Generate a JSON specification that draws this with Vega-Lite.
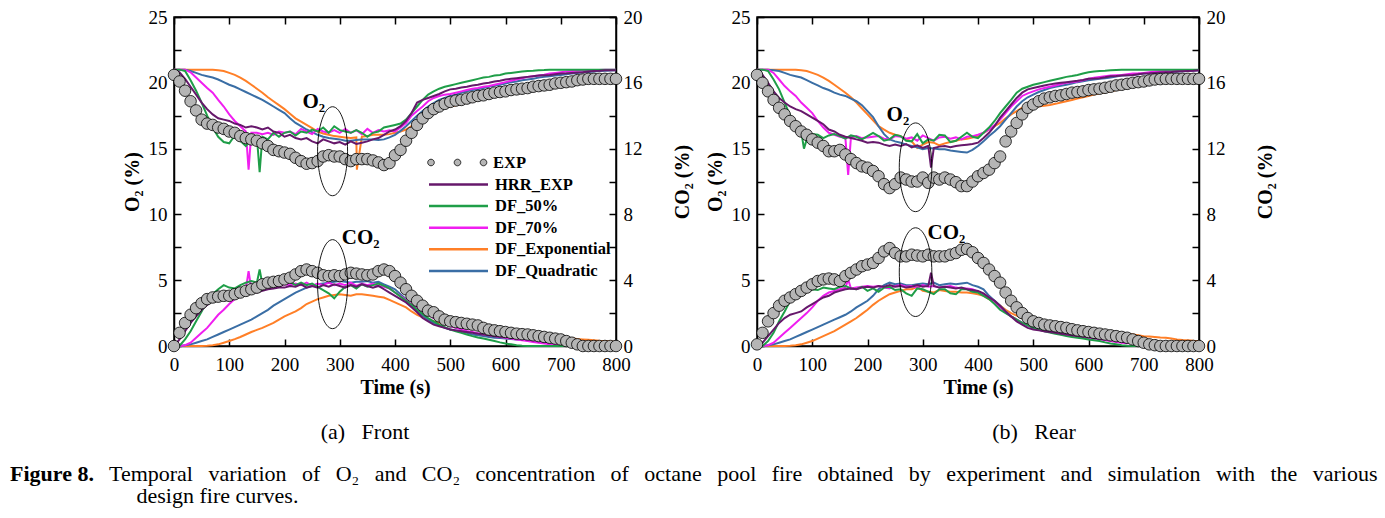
{
"$schema":"https://vega.github.io/schema/vega-lite/v6.json",
"autosize":{"type":"none"},
"padding":{"left":174,"top":17,"right":1211,"bottom":501},
"bounds":"flush",
"spacing":141,
"background":"white",
"title":{"text":"Figure 8.","subtitle":["\u200b\u00a0\u00a0\u00a0\u00a0\u00a0\u00a0\u00a0\u00a0\u00a0\u00a0\u00a0\u00a0\u00a0\u00a0\u00a0\u00a0\u00a0\u00a0Temporal \u00a0\u2009variation \u00a0\u2009of \u00a0\u2009O₂ \u00a0\u2009and \u00a0\u2009CO₂ \u00a0\u2009concentration \u00a0\u2009of \u00a0\u2009octane \u00a0\u2009pool \u00a0\u2009fire \u00a0\u2009obtained \u00a0\u2009by \u00a0\u2009experiment \u00a0\u2009and \u00a0\u2009simulation \u00a0\u2009with \u00a0\u2009the \u00a0\u2009various","\u200b\u00a0\u00a0\u00a0\u00a0\u00a0\u00a0\u00a0\u00a0\u00a0\u00a0\u00a0\u00a0\u00a0\u00a0\u00a0\u00a0\u00a0\u00a0\u00a0\u00a0\u00a0\u00a0\u00a0design fire curves."],"orient":"bottom","anchor":"start","frame":"group","dx":-164,"offset":20,"font":"Liberation Serif","fontSize":22,"fontWeight":"bold","color":"black","subtitleFont":"Liberation Serif","subtitleFontSize":22,"subtitleColor":"black","subtitlePadding":-22,"subtitleLineHeight":22},
"datasets":{
"front":[
{"t":0,"g":"o","e":20.6,"h":21,"d5":21,"d7":21,"dx":21,"dq":21},
{"t":10,"g":"o","e":20.1,"h":20.8,"d5":21,"d7":21,"dx":21,"dq":21},
{"t":20,"g":"o","e":19.4,"h":20.3,"d5":20.9,"d7":21,"dx":21,"dq":21},
{"t":30,"g":"o","e":18.6,"h":19.7,"d5":20.2,"d7":20.8,"dx":21,"dq":20.9},
{"t":40,"g":"o","e":17.9,"h":19.1,"d5":19.4,"d7":20.4,"dx":21,"dq":20.75},
{"t":50,"g":"o","e":17.2,"h":18.5,"d5":18.5,"d7":20,"dx":21,"dq":20.6},
{"t":60,"g":"o","e":16.9,"h":18,"d5":17.5,"d7":19.6,"dx":21,"dq":20.5},
{"t":70,"g":"o","e":16.8,"h":17.6,"d5":16.6,"d7":19.25,"dx":21,"dq":20.4},
{"t":80,"g":"o","e":16.6,"h":17.3,"d5":15.9,"d7":18.7,"dx":20.95,"dq":20.25},
{"t":90,"g":"o","e":16.5,"h":17.2,"d5":15.5,"d7":18.2,"dx":20.9,"dq":20.05},
{"t":100,"g":"o","e":16.3,"h":17.1,"d5":15.4,"d7":17.6,"dx":20.75,"dq":19.85},
{"t":110,"g":"o","e":16.2,"h":16.9,"d5":16,"d7":17.1,"dx":20.6,"dq":19.7},
{"t":120,"g":"o","e":15.95,"h":16.8,"d5":15.6,"d7":16.7,"dx":20.4,"dq":19.5},
{"t":130,"g":"o","e":15.8,"h":16.6,"d5":15.2,"d7":16.3,"dx":20.15,"dq":19.3},
{"t":135,"g":"o","d7":13.4},
{"t":140,"g":"o","e":15.7,"h":16.7,"d5":15.7,"d7":16.2,"dx":19.85,"dq":19.1},
{"t":150,"g":"o","e":15.6,"h":16.6,"d5":15.9,"d7":16.2,"dx":19.55,"dq":18.9},
{"t":155,"g":"o","d5":13.2},
{"t":160,"g":"o","e":15.4,"h":16.45,"d5":15.9,"d7":16.1,"dx":19.25,"dq":18.7},
{"t":170,"g":"o","e":15.2,"h":16.6,"d5":15.7,"d7":16.2,"dx":18.9,"dq":18.45},
{"t":180,"g":"o","e":14.9,"h":16.3,"d5":16.2,"d7":16.05,"dx":18.6,"dq":18.2},
{"t":190,"g":"o","e":14.8,"h":16.2,"d5":15.9,"d7":16.3,"dx":18.3,"dq":17.95},
{"t":200,"g":"o","e":14.7,"h":15.9,"d5":16.2,"d7":16.2,"dx":18,"dq":17.7},
{"t":210,"g":"o","e":14.6,"h":16.05,"d5":16.3,"d7":16.3,"dx":17.65,"dq":17.3},
{"t":220,"g":"o","e":14.3,"h":15.8,"d5":16,"d7":16.1,"dx":17.3,"dq":16.95},
{"t":230,"g":"o","e":14.05,"h":15.7,"d5":16.3,"d7":16.5,"dx":17.05,"dq":16.7},
{"t":240,"g":"o","e":13.85,"h":15.8,"d5":16.2,"d7":16.3,"dx":16.8,"dq":16.45},
{"t":250,"g":"o","e":13.9,"h":15.55,"d5":16.45,"d7":16.1,"dx":16.55,"dq":16.25},
{"t":260,"g":"o","e":14.05,"h":15.4,"d5":16.3,"d7":16.5,"dx":16.3,"dq":16.05},
{"t":270,"g":"o","e":14.4,"h":15.7,"d5":16.6,"d7":16.3,"dx":16.15,"dq":15.9},
{"t":280,"g":"o","e":14.5,"h":15.55,"d5":16.2,"d7":16.2,"dx":16.05,"dq":15.8},
{"t":290,"g":"o","e":14.4,"h":15.4,"d5":16.7,"d7":16.4,"dx":15.95,"dq":15.75},
{"t":300,"g":"o","e":14.4,"h":15.5,"d5":16.4,"d7":16.2,"dx":15.9,"dq":15.7},
{"t":310,"g":"o","e":14.2,"h":15.3,"d5":16.3,"d7":16.5,"dx":15.85,"dq":15.6},
{"t":320,"g":"o","e":14.05,"h":15.55,"d5":16.2,"d7":16.2,"dx":15.8,"dq":15.6},
{"t":330,"g":"o","e":14.2,"h":15.35,"d5":16.4,"d7":16.4,"dx":15.85,"dq":15.65},
{"t":331,"g":"o","dx":13.4},
{"t":340,"g":"o","e":14.2,"h":15.45,"d5":16.2,"d7":16.1,"dx":15.9,"dq":15.7},
{"t":350,"g":"o","e":14.2,"h":15.55,"d5":15.9,"d7":16.5,"dx":15.95,"dq":15.7},
{"t":360,"g":"o","e":14.1,"h":15.7,"d5":16.2,"d7":16.2,"dx":16.05,"dq":15.7},
{"t":370,"g":"o","e":13.95,"h":15.8,"d5":16.3,"d7":16.4,"dx":16.05,"dq":15.65},
{"t":380,"g":"o","e":13.75,"h":16.05,"d5":16.6,"d7":16.3,"dx":16.05,"dq":15.7},
{"t":390,"g":"o","e":13.9,"h":16.3,"d5":16.7,"d7":16.4,"dx":16.1,"dq":15.85},
{"t":400,"g":"o","e":14.5,"h":16.45,"d5":16.8,"d7":16.3,"dx":16.2,"dq":16.05},
{"t":410,"g":"o","e":14.9,"h":16.7,"d5":16.9,"d7":16.6,"dx":16.3,"dq":16.35},
{"t":420,"g":"o","e":15.6,"h":17.1,"d5":17.2,"d7":16.95,"dx":16.45,"dq":16.7},
{"t":430,"g":"o","e":16.2,"h":17.7,"d5":17.7,"d7":17.5,"dx":16.7,"dq":17.1},
{"t":440,"g":"o","e":16.8,"h":18.5,"d5":18.2,"d7":17.85,"dx":16.95,"dq":17.5},
{"t":450,"g":"o","e":17.3,"h":18.7,"d5":18.7,"d7":18.2,"dx":17.3,"dq":17.85},
{"t":460,"g":"o","e":17.7,"h":18.85,"d5":19.1,"d7":18.6,"dx":17.6,"dq":18.2},
{"t":470,"g":"o","e":18,"h":19,"d5":19.35,"d7":18.85,"dx":17.8,"dq":18.45},
{"t":480,"g":"o","e":18.2,"h":19.15,"d5":19.55,"d7":19,"dx":18,"dq":18.7},
{"t":490,"g":"o","e":18.4,"h":19.35,"d5":19.7,"d7":19.1,"dx":18.1,"dq":18.85},
{"t":500,"g":"o","e":18.55,"h":19.5,"d5":19.8,"d7":19.15,"dx":18.2,"dq":19},
{"t":510,"g":"o","e":18.65,"h":19.55,"d5":19.9,"d7":19.25,"dx":18.3,"dq":19.1},
{"t":520,"g":"o","e":18.7,"h":19.65,"d5":20,"d7":19.35,"dx":18.4,"dq":19.25},
{"t":530,"g":"o","e":18.8,"h":19.7,"d5":20.1,"d7":19.45,"dx":18.5,"dq":19.35},
{"t":540,"g":"o","e":18.9,"h":19.8,"d5":20.2,"d7":19.55,"dx":18.6,"dq":19.45},
{"t":550,"g":"o","e":19,"h":19.85,"d5":20.3,"d7":19.6,"dx":18.7,"dq":19.5},
{"t":560,"g":"o","e":19.05,"h":19.95,"d5":20.4,"d7":19.7,"dx":18.8,"dq":19.6},
{"t":570,"g":"o","e":19.15,"h":20,"d5":20.45,"d7":19.75,"dx":18.95,"dq":19.7},
{"t":580,"g":"o","e":19.25,"h":20.1,"d5":20.55,"d7":19.85,"dx":19.1,"dq":19.8},
{"t":590,"g":"o","e":19.3,"h":20.15,"d5":20.6,"d7":19.95,"dx":19.2,"dq":19.85},
{"t":600,"g":"o","e":19.35,"h":20.25,"d5":20.7,"d7":20.05,"dx":19.3,"dq":19.95},
{"t":610,"g":"o","e":19.45,"h":20.3,"d5":20.75,"d7":20.15,"dx":19.4,"dq":20.05},
{"t":620,"g":"o","e":19.5,"h":20.35,"d5":20.8,"d7":20.25,"dx":19.5,"dq":20.1},
{"t":630,"g":"o","e":19.55,"h":20.4,"d5":20.85,"d7":20.35,"dx":19.55,"dq":20.2},
{"t":640,"g":"o","e":19.6,"h":20.45,"d5":20.9,"d7":20.45,"dx":19.6,"dq":20.25},
{"t":650,"g":"o","e":19.7,"h":20.5,"d5":20.92,"d7":20.5,"dx":19.7,"dq":20.3},
{"t":660,"g":"o","e":19.75,"h":20.55,"d5":20.95,"d7":20.55,"dx":19.8,"dq":20.4},
{"t":670,"g":"o","e":19.8,"h":20.58,"d5":20.97,"d7":20.62,"dx":19.85,"dq":20.45},
{"t":680,"g":"o","e":19.85,"h":20.6,"d5":21,"d7":20.7,"dx":19.9,"dq":20.5},
{"t":690,"g":"o","e":19.95,"h":20.65,"d5":21,"d7":20.75,"dx":20,"dq":20.55},
{"t":700,"g":"o","e":20,"h":20.7,"d5":21,"d7":20.8,"dx":20.05,"dq":20.6},
{"t":710,"g":"o","e":20.05,"h":20.72,"d5":21,"d7":20.85,"dx":20.08,"dq":20.65},
{"t":720,"g":"o","e":20.1,"h":20.75,"d5":21,"d7":20.9,"dx":20.1,"dq":20.7},
{"t":730,"g":"o","e":20.2,"h":20.78,"d5":21,"d7":20.92,"dx":20.18,"dq":20.75},
{"t":740,"g":"o","e":20.25,"h":20.8,"d5":21,"d7":20.94,"dx":20.25,"dq":20.8},
{"t":750,"g":"o","e":20.3,"h":20.85,"d5":21,"d7":20.96,"dx":20.28,"dq":20.82},
{"t":760,"g":"o","e":20.3,"h":20.9,"d5":21,"d7":20.97,"dx":20.3,"dq":20.85},
{"t":770,"g":"o","e":20.3,"h":20.92,"d5":21,"d7":20.98,"dx":20.33,"dq":20.9},
{"t":780,"g":"o","e":20.3,"h":20.95,"d5":21,"d7":21,"dx":20.35,"dq":20.92},
{"t":790,"g":"o","e":20.3,"h":20.95,"d5":21,"d7":21,"dx":20.38,"dq":20.94},
{"t":800,"g":"o","e":20.3,"h":20.95,"d5":21,"d7":21,"dx":20.4,"dq":20.95},
{"t":0,"g":"c","e":0,"h":0,"d5":0,"d7":0,"dx":0,"dq":0},
{"t":10,"g":"c","e":0.8,"h":0.4,"d5":0.02,"d7":0,"dx":0,"dq":0},
{"t":20,"g":"c","e":1.4,"h":0.9,"d5":0.4,"d7":0.05,"dx":0,"dq":0.05},
{"t":30,"g":"c","e":1.9,"h":1.4,"d5":0.9,"d7":0.2,"dx":0,"dq":0.1},
{"t":40,"g":"c","e":2.3,"h":1.8,"d5":1.5,"d7":0.5,"dx":0,"dq":0.2},
{"t":50,"g":"c","e":2.6,"h":2.2,"d5":2.1,"d7":0.8,"dx":0,"dq":0.3},
{"t":60,"g":"c","e":2.85,"h":2.5,"d5":2.75,"d7":1.1,"dx":0.02,"dq":0.4},
{"t":70,"g":"c","e":2.95,"h":2.75,"d5":3.15,"d7":1.5,"dx":0.05,"dq":0.55},
{"t":80,"g":"c","e":3,"h":2.9,"d5":3.45,"d7":1.9,"dx":0.1,"dq":0.7},
{"t":90,"g":"c","e":3.05,"h":2.95,"d5":3.7,"d7":2.2,"dx":0.2,"dq":0.85},
{"t":100,"g":"c","e":3.05,"h":3.05,"d5":3.55,"d7":2.55,"dx":0.3,"dq":1},
{"t":110,"g":"c","e":3.15,"h":3.15,"d5":3.5,"d7":2.85,"dx":0.42,"dq":1.15},
{"t":120,"g":"c","e":3.25,"h":3.15,"d5":3.7,"d7":3.15,"dx":0.55,"dq":1.3},
{"t":130,"g":"c","e":3.35,"h":3.25,"d5":3.85,"d7":3.45,"dx":0.7,"dq":1.45},
{"t":135,"g":"c","d7":4.55},
{"t":140,"g":"c","e":3.45,"h":3.35,"d5":3.95,"d7":3.45,"dx":0.85,"dq":1.6},
{"t":150,"g":"c","e":3.55,"h":3.25,"d5":3.85,"d7":3.55,"dx":0.98,"dq":1.8},
{"t":155,"g":"c","d5":4.65},
{"t":160,"g":"c","e":3.75,"h":3.35,"d5":3.75,"d7":3.65,"dx":1.1,"dq":2},
{"t":170,"g":"c","e":3.85,"h":3.45,"d5":3.85,"d7":3.6,"dx":1.25,"dq":2.2},
{"t":180,"g":"c","e":3.9,"h":3.5,"d5":3.85,"d7":3.7,"dx":1.4,"dq":2.45},
{"t":190,"g":"c","e":3.95,"h":3.55,"d5":3.95,"d7":3.65,"dx":1.6,"dq":2.65},
{"t":200,"g":"c","e":4.05,"h":3.55,"d5":3.8,"d7":3.75,"dx":1.8,"dq":2.85},
{"t":210,"g":"c","e":4.15,"h":3.65,"d5":3.9,"d7":3.7,"dx":1.95,"dq":3.05},
{"t":220,"g":"c","e":4.35,"h":3.6,"d5":3.7,"d7":3.8,"dx":2.1,"dq":3.25},
{"t":230,"g":"c","e":4.55,"h":3.75,"d5":3.85,"d7":3.7,"dx":2.3,"dq":3.4},
{"t":240,"g":"c","e":4.65,"h":3.55,"d5":3.7,"d7":3.85,"dx":2.55,"dq":3.55},
{"t":250,"g":"c","e":4.55,"h":3.65,"d5":3.8,"d7":3.65,"dx":2.7,"dq":3.65},
{"t":260,"g":"c","e":4.45,"h":3.55,"d5":3.6,"d7":3.8,"dx":2.85,"dq":3.75},
{"t":270,"g":"c","e":4.3,"h":3.7,"d5":3.4,"d7":3.7,"dx":2.95,"dq":3.8},
{"t":280,"g":"c","e":4.25,"h":3.6,"d5":3.2,"d7":3.85,"dx":3.05,"dq":3.85},
{"t":290,"g":"c","e":4.3,"h":3.75,"d5":2.9,"d7":3.7,"dx":3.1,"dq":3.9},
{"t":300,"g":"c","e":4.25,"h":3.65,"d5":3.3,"d7":3.8,"dx":3.15,"dq":3.95},
{"t":310,"g":"c","e":4.35,"h":3.55,"d5":3.6,"d7":3.7,"dx":3.1,"dq":3.9},
{"t":320,"g":"c","e":4.45,"h":3.7,"d5":3.7,"d7":3.85,"dx":3.05,"dq":3.85},
{"t":330,"g":"c","e":4.4,"h":3.6,"d5":3.5,"d7":3.65,"dx":3.15,"dq":3.9},
{"t":340,"g":"c","e":4.35,"h":3.75,"d5":3.75,"d7":3.8,"dx":3.15,"dq":3.9},
{"t":350,"g":"c","e":4.3,"h":3.65,"d5":3.6,"d7":3.7,"dx":3.1,"dq":3.95},
{"t":360,"g":"c","e":4.35,"h":3.55,"d5":3.7,"d7":3.8,"dx":3.05,"dq":3.85},
{"t":370,"g":"c","e":4.55,"h":3.65,"d5":3.8,"d7":3.65,"dx":3,"dq":3.9},
{"t":380,"g":"c","e":4.65,"h":3.45,"d5":3.65,"d7":3.6,"dx":2.95,"dq":3.75},
{"t":390,"g":"c","e":4.55,"h":3.25,"d5":3.5,"d7":3.5,"dx":2.8,"dq":3.6},
{"t":400,"g":"c","e":4.25,"h":3.05,"d5":3.25,"d7":3.25,"dx":2.65,"dq":3.45},
{"t":410,"g":"c","e":3.85,"h":2.85,"d5":3,"d7":3.05,"dx":2.5,"dq":3.15},
{"t":420,"g":"c","e":3.45,"h":2.65,"d5":2.75,"d7":2.8,"dx":2.35,"dq":2.85},
{"t":430,"g":"c","e":3.05,"h":2.35,"d5":2.5,"d7":2.55,"dx":2.1,"dq":2.45},
{"t":440,"g":"c","e":2.75,"h":2.05,"d5":2.2,"d7":2.35,"dx":1.9,"dq":2.1},
{"t":450,"g":"c","e":2.45,"h":1.7,"d5":1.95,"d7":2.1,"dx":1.75,"dq":1.85},
{"t":460,"g":"c","e":2.15,"h":1.5,"d5":1.7,"d7":1.9,"dx":1.6,"dq":1.6},
{"t":470,"g":"c","e":2.05,"h":1.3,"d5":1.5,"d7":1.7,"dx":1.5,"dq":1.4},
{"t":480,"g":"c","e":1.8,"h":1.2,"d5":1.3,"d7":1.5,"dx":1.4,"dq":1.25},
{"t":490,"g":"c","e":1.6,"h":1.1,"d5":1.15,"d7":1.35,"dx":1.35,"dq":1.1},
{"t":500,"g":"c","e":1.5,"h":1,"d5":1,"d7":1.2,"dx":1.3,"dq":1},
{"t":510,"g":"c","e":1.45,"h":0.95,"d5":0.9,"d7":1.1,"dx":1.25,"dq":0.95},
{"t":520,"g":"c","e":1.4,"h":0.9,"d5":0.8,"d7":1,"dx":1.2,"dq":0.9},
{"t":530,"g":"c","e":1.35,"h":0.85,"d5":0.7,"d7":0.92,"dx":1.15,"dq":0.8},
{"t":540,"g":"c","e":1.3,"h":0.8,"d5":0.6,"d7":0.85,"dx":1.1,"dq":0.7},
{"t":550,"g":"c","e":1.25,"h":0.75,"d5":0.52,"d7":0.78,"dx":1.05,"dq":0.65},
{"t":560,"g":"c","e":1.1,"h":0.7,"d5":0.45,"d7":0.7,"dx":1,"dq":0.6},
{"t":570,"g":"c","e":1,"h":0.65,"d5":0.38,"d7":0.65,"dx":0.95,"dq":0.55},
{"t":580,"g":"c","e":0.95,"h":0.6,"d5":0.3,"d7":0.6,"dx":0.9,"dq":0.5},
{"t":590,"g":"c","e":0.9,"h":0.58,"d5":0.22,"d7":0.55,"dx":0.85,"dq":0.48},
{"t":600,"g":"c","e":0.85,"h":0.55,"d5":0.15,"d7":0.5,"dx":0.8,"dq":0.45},
{"t":610,"g":"c","e":0.8,"h":0.52,"d5":0.1,"d7":0.45,"dx":0.77,"dq":0.42},
{"t":620,"g":"c","e":0.75,"h":0.5,"d5":0.05,"d7":0.4,"dx":0.75,"dq":0.4},
{"t":630,"g":"c","e":0.72,"h":0.48,"d5":0.02,"d7":0.35,"dx":0.72,"dq":0.38},
{"t":640,"g":"c","e":0.7,"h":0.45,"d5":0,"d7":0.3,"dx":0.7,"dq":0.35},
{"t":650,"g":"c","e":0.65,"h":0.42,"d5":0,"d7":0.25,"dx":0.65,"dq":0.32},
{"t":660,"g":"c","e":0.6,"h":0.4,"d5":0,"d7":0.2,"dx":0.6,"dq":0.3},
{"t":670,"g":"c","e":0.55,"h":0.38,"d5":0,"d7":0.15,"dx":0.57,"dq":0.28},
{"t":680,"g":"c","e":0.5,"h":0.35,"d5":0,"d7":0.1,"dx":0.55,"dq":0.25},
{"t":690,"g":"c","e":0.45,"h":0.32,"d5":0,"d7":0.07,"dx":0.52,"dq":0.22},
{"t":700,"g":"c","e":0.4,"h":0.3,"d5":0,"d7":0.05,"dx":0.5,"dq":0.2},
{"t":710,"g":"c","e":0.3,"h":0.28,"d5":0,"d7":0.02,"dx":0.48,"dq":0.19},
{"t":720,"g":"c","e":0.2,"h":0.25,"d5":0,"d7":0,"dx":0.45,"dq":0.18},
{"t":730,"g":"c","e":0.1,"h":0.22,"d5":0,"d7":0,"dx":0.42,"dq":0.17},
{"t":740,"g":"c","e":0,"h":0.2,"d5":0,"d7":0,"dx":0.4,"dq":0.16},
{"t":750,"g":"c","e":0,"h":0.18,"d5":0,"d7":0,"dx":0.38,"dq":0.15},
{"t":760,"g":"c","e":0,"h":0.15,"d5":0,"d7":0,"dx":0.35,"dq":0.14},
{"t":770,"g":"c","e":0,"h":0.15,"d5":0,"d7":0,"dx":0.32,"dq":0.13},
{"t":780,"g":"c","e":0,"h":0.15,"d5":0,"d7":0,"dx":0.3,"dq":0.12},
{"t":790,"g":"c","e":0,"h":0.15,"d5":0,"d7":0,"dx":0.28,"dq":0.11},
{"t":800,"g":"c","e":0,"h":0.15,"d5":0,"d7":0,"dx":0.25,"dq":0.1}
],
"rear":[
{"t":0,"g":"o","e":20.6,"h":21,"d5":21,"d7":21,"dx":21,"dq":21},
{"t":10,"g":"o","e":20,"h":20.6,"d5":21,"d7":21,"dx":21,"dq":21},
{"t":20,"g":"o","e":19.35,"h":20,"d5":20.9,"d7":21,"dx":21,"dq":21},
{"t":30,"g":"o","e":18.7,"h":19.35,"d5":20.25,"d7":20.75,"dx":21,"dq":20.95},
{"t":40,"g":"o","e":18.1,"h":18.85,"d5":19.5,"d7":20.25,"dx":21,"dq":20.9},
{"t":50,"g":"o","e":17.6,"h":18.5,"d5":18.5,"d7":19.75,"dx":21,"dq":20.75},
{"t":60,"g":"o","e":17.1,"h":18.2,"d5":17.5,"d7":19.35,"dx":21,"dq":20.6},
{"t":70,"g":"o","e":16.7,"h":18,"d5":16.85,"d7":19,"dx":21,"dq":20.5},
{"t":80,"g":"o","e":16.3,"h":17.85,"d5":16.3,"d7":18.5,"dx":20.95,"dq":20.4},
{"t":85,"g":"o","d5":15},
{"t":90,"g":"o","e":16.05,"h":17.6,"d5":15.7,"d7":18.1,"dx":20.9,"dq":20.2},
{"t":100,"g":"o","e":15.7,"h":17.35,"d5":16.1,"d7":17.7,"dx":20.75,"dq":20},
{"t":110,"g":"o","e":15.45,"h":17.1,"d5":16.05,"d7":17.1,"dx":20.6,"dq":19.8},
{"t":120,"g":"o","e":15.2,"h":16.85,"d5":15.8,"d7":16.6,"dx":20.4,"dq":19.6},
{"t":130,"g":"o","e":14.8,"h":16.45,"d5":16,"d7":16.2,"dx":20.15,"dq":19.45},
{"t":140,"g":"o","e":14.8,"h":16.3,"d5":16.1,"d7":16.05,"dx":19.85,"dq":19.25},
{"t":150,"g":"o","e":14.9,"h":16.05,"d5":15.95,"d7":15.9,"dx":19.55,"dq":19.1},
{"t":160,"g":"o","e":14.55,"h":15.9,"d5":15.75,"d7":15.8,"dx":19.25,"dq":19},
{"t":165,"g":"o","d7":13},
{"t":170,"g":"o","e":14.2,"h":15.8,"d5":16,"d7":15.85,"dx":18.9,"dq":18.8},
{"t":180,"g":"o","e":13.9,"h":15.7,"d5":15.9,"d7":15.95,"dx":18.5,"dq":18.6},
{"t":190,"g":"o","e":13.65,"h":15.6,"d5":15.7,"d7":15.8,"dx":18.05,"dq":18.3},
{"t":200,"g":"o","e":13.55,"h":15.45,"d5":15.95,"d7":15.85,"dx":17.6,"dq":17.85},
{"t":210,"g":"o","e":13.3,"h":15.5,"d5":16.2,"d7":15.9,"dx":17.15,"dq":17.4},
{"t":220,"g":"o","e":12.9,"h":15.45,"d5":15.95,"d7":15.95,"dx":16.7,"dq":16.7},
{"t":230,"g":"o","e":12.3,"h":15.3,"d5":15.6,"d7":15.75,"dx":16.45,"dq":16.1},
{"t":240,"g":"o","e":12,"h":15.2,"d5":15.7,"d7":15.7,"dx":16.2,"dq":15.7},
{"t":250,"g":"o","e":12.3,"h":15.3,"d5":16.05,"d7":15.95,"dx":16.05,"dq":15.55},
{"t":260,"g":"o","e":12.8,"h":15.2,"d5":15.95,"d7":15.9,"dx":15.95,"dq":15.45},
{"t":270,"g":"o","e":12.65,"h":15.35,"d5":15.6,"d7":15.75,"dx":15.7,"dq":15.3},
{"t":280,"g":"o","e":12.5,"h":15.1,"d5":15.55,"d7":15.85,"dx":15.55,"dq":15.2},
{"t":290,"g":"o","e":12.5,"h":15.25,"d5":16.1,"d7":15.6,"dx":15.05,"dq":15.1},
{"t":300,"g":"o","e":12.8,"h":15.05,"d5":15.4,"d7":16,"dx":15.3,"dq":14.95},
{"t":310,"g":"o","e":12.4,"h":15.2,"d5":15.7,"d7":15.8,"dx":15.5,"dq":15.05},
{"t":315,"g":"o","h":13.55},
{"t":320,"g":"o","e":12.8,"h":15.05,"d5":15.6,"d7":15.6,"dx":15.45,"dq":15},
{"t":330,"g":"o","e":12.65,"h":15.15,"d5":16.05,"d7":15.85,"dx":15.25,"dq":14.95},
{"t":340,"g":"o","e":12.8,"h":15.2,"d5":16,"d7":15.9,"dx":15.4,"dq":14.95},
{"t":350,"g":"o","e":12.65,"h":15.1,"d5":15.5,"d7":15.75,"dx":15.5,"dq":14.85},
{"t":360,"g":"o","e":12.45,"h":15.2,"d5":15.6,"d7":15.85,"dx":15.6,"dq":14.8},
{"t":370,"g":"o","e":12.15,"h":15.25,"d5":15.9,"d7":15.7,"dx":15.7,"dq":14.75},
{"t":380,"g":"o","e":12.15,"h":15.3,"d5":16.2,"d7":15.9,"dx":15.75,"dq":14.7},
{"t":390,"g":"o","e":12.5,"h":15.35,"d5":15.9,"d7":15.95,"dx":15.85,"dq":14.9},
{"t":400,"g":"o","e":12.9,"h":15.45,"d5":15.8,"d7":16.05,"dx":15.95,"dq":15.2},
{"t":410,"g":"o","e":13.15,"h":15.8,"d5":16.2,"d7":16.2,"dx":16.2,"dq":15.55},
{"t":420,"g":"o","e":13.4,"h":16.2,"d5":16.6,"d7":16.45,"dx":16.45,"dq":15.95},
{"t":430,"g":"o","e":13.9,"h":16.7,"d5":17.1,"d7":16.8,"dx":16.7,"dq":16.3},
{"t":440,"g":"o","e":14.4,"h":17.35,"d5":17.7,"d7":17.2,"dx":16.95,"dq":16.7},
{"t":450,"g":"o","e":15.55,"h":17.85,"d5":18.2,"d7":17.7,"dx":17.3,"dq":17.2},
{"t":460,"g":"o","e":16.3,"h":18.35,"d5":18.7,"d7":18.2,"dx":17.6,"dq":17.7},
{"t":470,"g":"o","e":16.95,"h":18.85,"d5":19.25,"d7":18.6,"dx":17.85,"dq":18.2},
{"t":480,"g":"o","e":17.6,"h":19.25,"d5":19.55,"d7":19,"dx":18.1,"dq":18.6},
{"t":490,"g":"o","e":18.1,"h":19.5,"d5":19.7,"d7":19.2,"dx":18.15,"dq":18.9},
{"t":500,"g":"o","e":18.35,"h":19.6,"d5":19.85,"d7":19.35,"dx":18.2,"dq":19.1},
{"t":510,"g":"o","e":18.6,"h":19.7,"d5":19.95,"d7":19.5,"dx":18.22,"dq":19.3},
{"t":520,"g":"o","e":18.8,"h":19.8,"d5":20.05,"d7":19.6,"dx":18.25,"dq":19.45},
{"t":530,"g":"o","e":18.9,"h":19.88,"d5":20.15,"d7":19.7,"dx":18.32,"dq":19.6},
{"t":540,"g":"o","e":19,"h":19.95,"d5":20.25,"d7":19.8,"dx":18.4,"dq":19.7},
{"t":550,"g":"o","e":19.05,"h":20,"d5":20.35,"d7":19.9,"dx":18.5,"dq":19.78},
{"t":560,"g":"o","e":19.15,"h":20.05,"d5":20.45,"d7":20,"dx":18.6,"dq":19.85},
{"t":570,"g":"o","e":19.25,"h":20.1,"d5":20.52,"d7":20.05,"dx":18.7,"dq":19.95},
{"t":580,"g":"o","e":19.3,"h":20.15,"d5":20.6,"d7":20.1,"dx":18.8,"dq":20.05},
{"t":590,"g":"o","e":19.35,"h":20.22,"d5":20.7,"d7":20.2,"dx":18.9,"dq":20.12},
{"t":600,"g":"o","e":19.45,"h":20.3,"d5":20.8,"d7":20.3,"dx":19,"dq":20.2},
{"t":610,"g":"o","e":19.5,"h":20.32,"d5":20.85,"d7":20.38,"dx":19.1,"dq":20.25},
{"t":620,"g":"o","e":19.55,"h":20.35,"d5":20.9,"d7":20.45,"dx":19.2,"dq":20.3},
{"t":630,"g":"o","e":19.62,"h":20.42,"d5":20.92,"d7":20.5,"dx":19.28,"dq":20.35},
{"t":640,"g":"o","e":19.7,"h":20.5,"d5":20.95,"d7":20.55,"dx":19.35,"dq":20.4},
{"t":650,"g":"o","e":19.8,"h":20.52,"d5":20.98,"d7":20.58,"dx":19.45,"dq":20.48},
{"t":660,"g":"o","e":19.85,"h":20.55,"d5":21,"d7":20.6,"dx":19.55,"dq":20.55},
{"t":670,"g":"o","e":19.92,"h":20.58,"d5":21,"d7":20.65,"dx":19.62,"dq":20.58},
{"t":680,"g":"o","e":20,"h":20.6,"d5":21,"d7":20.7,"dx":19.7,"dq":20.6},
{"t":690,"g":"o","e":20.05,"h":20.65,"d5":21,"d7":20.72,"dx":19.75,"dq":20.65},
{"t":700,"g":"o","e":20.1,"h":20.7,"d5":21,"d7":20.75,"dx":19.8,"dq":20.7},
{"t":710,"g":"o","e":20.18,"h":20.72,"d5":21,"d7":20.8,"dx":19.88,"dq":20.72},
{"t":720,"g":"o","e":20.25,"h":20.75,"d5":21,"d7":20.85,"dx":19.95,"dq":20.75},
{"t":730,"g":"o","e":20.28,"h":20.78,"d5":21,"d7":20.88,"dx":20,"dq":20.78},
{"t":740,"g":"o","e":20.3,"h":20.8,"d5":21,"d7":20.9,"dx":20.05,"dq":20.8},
{"t":750,"g":"o","e":20.3,"h":20.82,"d5":21,"d7":20.92,"dx":20.08,"dq":20.83},
{"t":760,"g":"o","e":20.3,"h":20.85,"d5":21,"d7":20.93,"dx":20.1,"dq":20.85},
{"t":770,"g":"o","e":20.3,"h":20.88,"d5":21,"d7":20.94,"dx":20.12,"dq":20.88},
{"t":780,"g":"o","e":20.3,"h":20.9,"d5":21,"d7":20.95,"dx":20.15,"dq":20.9},
{"t":790,"g":"o","e":20.3,"h":20.92,"d5":21,"d7":20.96,"dx":20.2,"dq":20.92},
{"t":800,"g":"o","e":20.3,"h":20.95,"d5":21,"d7":20.97,"dx":20.25,"dq":20.95},
{"t":0,"g":"c","e":0.1,"h":0,"d5":0,"d7":0,"dx":0,"dq":0},
{"t":10,"g":"c","e":0.8,"h":0.2,"d5":0,"d7":0,"dx":0,"dq":0},
{"t":20,"g":"c","e":1.5,"h":0.6,"d5":0.3,"d7":0.05,"dx":0,"dq":0.05},
{"t":30,"g":"c","e":2,"h":1,"d5":0.8,"d7":0.2,"dx":0,"dq":0.1},
{"t":40,"g":"c","e":2.45,"h":1.4,"d5":1.5,"d7":0.5,"dx":0,"dq":0.2},
{"t":50,"g":"c","e":2.75,"h":1.7,"d5":2.1,"d7":0.8,"dx":0,"dq":0.3},
{"t":60,"g":"c","e":2.95,"h":1.9,"d5":2.75,"d7":1.1,"dx":0.02,"dq":0.4},
{"t":70,"g":"c","e":3.15,"h":2,"d5":3.05,"d7":1.4,"dx":0.05,"dq":0.55},
{"t":80,"g":"c","e":3.35,"h":2.1,"d5":3.25,"d7":1.7,"dx":0.1,"dq":0.7},
{"t":90,"g":"c","e":3.55,"h":2.35,"d5":3.35,"d7":2,"dx":0.2,"dq":0.85},
{"t":100,"g":"c","e":3.75,"h":2.55,"d5":3.45,"d7":2.35,"dx":0.3,"dq":1},
{"t":110,"g":"c","e":3.95,"h":2.75,"d5":3.4,"d7":2.75,"dx":0.45,"dq":1.15},
{"t":120,"g":"c","e":4.05,"h":2.95,"d5":3.55,"d7":3.05,"dx":0.6,"dq":1.3},
{"t":130,"g":"c","e":4.1,"h":3.05,"d5":3.5,"d7":3.25,"dx":0.75,"dq":1.45},
{"t":140,"g":"c","e":4.05,"h":3.25,"d5":3.45,"d7":3.35,"dx":0.9,"dq":1.6},
{"t":150,"g":"c","e":3.95,"h":3.35,"d5":3.6,"d7":3.45,"dx":1.1,"dq":1.75},
{"t":160,"g":"c","e":4.25,"h":3.45,"d5":3.65,"d7":3.55,"dx":1.3,"dq":1.9},
{"t":165,"g":"c","d7":4.05},
{"t":170,"g":"c","e":4.45,"h":3.5,"d5":3.5,"d7":3.5,"dx":1.5,"dq":2.1},
{"t":180,"g":"c","e":4.65,"h":3.45,"d5":3.45,"d7":3.55,"dx":1.7,"dq":2.35},
{"t":190,"g":"c","e":4.85,"h":3.55,"d5":3.6,"d7":3.6,"dx":1.95,"dq":2.55},
{"t":200,"g":"c","e":4.95,"h":3.6,"d5":3.35,"d7":3.65,"dx":2.2,"dq":2.75},
{"t":210,"g":"c","e":5.05,"h":3.55,"d5":3.5,"d7":3.6,"dx":2.5,"dq":3.05},
{"t":220,"g":"c","e":5.35,"h":3.65,"d5":3.3,"d7":3.65,"dx":2.75,"dq":3.45},
{"t":230,"g":"c","e":5.75,"h":3.6,"d5":3.55,"d7":3.55,"dx":2.95,"dq":3.7},
{"t":240,"g":"c","e":5.95,"h":3.7,"d5":3.6,"d7":3.5,"dx":3.15,"dq":3.85},
{"t":250,"g":"c","e":5.65,"h":3.6,"d5":3.4,"d7":3.65,"dx":3.25,"dq":3.75},
{"t":260,"g":"c","e":5.45,"h":3.65,"d5":3.45,"d7":3.7,"dx":3.35,"dq":3.8},
{"t":270,"g":"c","e":5.45,"h":3.55,"d5":3.2,"d7":3.6,"dx":3.45,"dq":3.7},
{"t":280,"g":"c","e":5.55,"h":3.6,"d5":3.05,"d7":3.65,"dx":3.45,"dq":3.7},
{"t":290,"g":"c","e":5.5,"h":3.7,"d5":3.5,"d7":3.55,"dx":3.6,"dq":3.75},
{"t":300,"g":"c","e":5.45,"h":3.6,"d5":3.45,"d7":3.7,"dx":3.35,"dq":3.8},
{"t":310,"g":"c","e":5.55,"h":3.65,"d5":3.3,"d7":3.6,"dx":3.3,"dq":3.75},
{"t":315,"g":"c","h":4.45},
{"t":320,"g":"c","e":5.45,"h":3.65,"d5":3.15,"d7":3.65,"dx":3.25,"dq":3.85},
{"t":330,"g":"c","e":5.45,"h":3.55,"d5":3.45,"d7":3.55,"dx":3.4,"dq":3.7},
{"t":340,"g":"c","e":5.45,"h":3.6,"d5":3.45,"d7":3.6,"dx":3.35,"dq":3.75},
{"t":350,"g":"c","e":5.55,"h":3.55,"d5":3.2,"d7":3.65,"dx":3.3,"dq":3.8},
{"t":360,"g":"c","e":5.65,"h":3.5,"d5":3.15,"d7":3.55,"dx":3.3,"dq":3.75},
{"t":370,"g":"c","e":5.85,"h":3.55,"d5":3.45,"d7":3.5,"dx":3.25,"dq":3.8},
{"t":380,"g":"c","e":5.9,"h":3.45,"d5":3.45,"d7":3.5,"dx":3.25,"dq":3.85},
{"t":390,"g":"c","e":5.7,"h":3.4,"d5":3.3,"d7":3.45,"dx":3.2,"dq":3.7},
{"t":400,"g":"c","e":5.35,"h":3.35,"d5":3.25,"d7":3.3,"dx":3.15,"dq":3.6},
{"t":410,"g":"c","e":5.05,"h":3.2,"d5":3.05,"d7":3.15,"dx":3.05,"dq":3.45},
{"t":420,"g":"c","e":4.65,"h":2.95,"d5":2.85,"d7":2.95,"dx":2.85,"dq":3.05},
{"t":430,"g":"c","e":4.25,"h":2.75,"d5":2.55,"d7":2.7,"dx":2.65,"dq":2.75},
{"t":440,"g":"c","e":3.85,"h":2.45,"d5":2.2,"d7":2.35,"dx":2.45,"dq":2.45},
{"t":450,"g":"c","e":3.25,"h":2.1,"d5":2,"d7":2.05,"dx":2.2,"dq":2.1},
{"t":460,"g":"c","e":2.75,"h":1.8,"d5":1.8,"d7":1.8,"dx":2,"dq":1.8},
{"t":470,"g":"c","e":2.35,"h":1.5,"d5":1.6,"d7":1.6,"dx":1.85,"dq":1.6},
{"t":480,"g":"c","e":2,"h":1.3,"d5":1.4,"d7":1.4,"dx":1.7,"dq":1.4},
{"t":490,"g":"c","e":1.7,"h":1.1,"d5":1.25,"d7":1.25,"dx":1.65,"dq":1.25},
{"t":500,"g":"c","e":1.5,"h":1,"d5":1.1,"d7":1.1,"dx":1.6,"dq":1.1},
{"t":510,"g":"c","e":1.4,"h":0.95,"d5":1,"d7":1,"dx":1.55,"dq":1.05},
{"t":520,"g":"c","e":1.3,"h":0.9,"d5":0.9,"d7":0.9,"dx":1.5,"dq":0.95},
{"t":530,"g":"c","e":1.25,"h":0.85,"d5":0.82,"d7":0.85,"dx":1.45,"dq":0.88},
{"t":540,"g":"c","e":1.2,"h":0.8,"d5":0.75,"d7":0.8,"dx":1.4,"dq":0.8},
{"t":550,"g":"c","e":1.15,"h":0.75,"d5":0.68,"d7":0.72,"dx":1.32,"dq":0.75},
{"t":560,"g":"c","e":1.1,"h":0.7,"d5":0.6,"d7":0.65,"dx":1.25,"dq":0.7},
{"t":570,"g":"c","e":1.02,"h":0.65,"d5":0.55,"d7":0.6,"dx":1.18,"dq":0.65},
{"t":580,"g":"c","e":0.95,"h":0.6,"d5":0.5,"d7":0.55,"dx":1.1,"dq":0.6},
{"t":590,"g":"c","e":0.9,"h":0.57,"d5":0.45,"d7":0.5,"dx":1.05,"dq":0.58},
{"t":600,"g":"c","e":0.85,"h":0.55,"d5":0.4,"d7":0.45,"dx":1,"dq":0.55},
{"t":610,"g":"c","e":0.8,"h":0.5,"d5":0.35,"d7":0.42,"dx":0.95,"dq":0.5},
{"t":620,"g":"c","e":0.75,"h":0.45,"d5":0.3,"d7":0.4,"dx":0.9,"dq":0.47},
{"t":630,"g":"c","e":0.7,"h":0.42,"d5":0.22,"d7":0.35,"dx":0.85,"dq":0.43},
{"t":640,"g":"c","e":0.65,"h":0.4,"d5":0.15,"d7":0.3,"dx":0.8,"dq":0.4},
{"t":650,"g":"c","e":0.6,"h":0.37,"d5":0.1,"d7":0.25,"dx":0.78,"dq":0.37},
{"t":660,"g":"c","e":0.55,"h":0.35,"d5":0.05,"d7":0.2,"dx":0.75,"dq":0.33},
{"t":670,"g":"c","e":0.5,"h":0.32,"d5":0.02,"d7":0.17,"dx":0.72,"dq":0.3},
{"t":680,"g":"c","e":0.4,"h":0.3,"d5":0,"d7":0.15,"dx":0.7,"dq":0.28},
{"t":690,"g":"c","e":0.3,"h":0.27,"d5":0,"d7":0.12,"dx":0.65,"dq":0.26},
{"t":700,"g":"c","e":0.2,"h":0.25,"d5":0,"d7":0.1,"dx":0.6,"dq":0.25},
{"t":710,"g":"c","e":0.1,"h":0.22,"d5":0,"d7":0.07,"dx":0.58,"dq":0.23},
{"t":720,"g":"c","e":0.05,"h":0.2,"d5":0,"d7":0.05,"dx":0.55,"dq":0.2},
{"t":730,"g":"c","e":0,"h":0.18,"d5":0,"d7":0.02,"dx":0.52,"dq":0.18},
{"t":740,"g":"c","e":0,"h":0.16,"d5":0,"d7":0,"dx":0.5,"dq":0.16},
{"t":750,"g":"c","e":0,"h":0.15,"d5":0,"d7":0,"dx":0.45,"dq":0.15},
{"t":760,"g":"c","e":0,"h":0.15,"d5":0,"d7":0,"dx":0.4,"dq":0.14},
{"t":770,"g":"c","e":0,"h":0.15,"d5":0,"d7":0,"dx":0.37,"dq":0.13},
{"t":780,"g":"c","e":0,"h":0.15,"d5":0,"d7":0,"dx":0.35,"dq":0.12},
{"t":790,"g":"c","e":0,"h":0.15,"d5":0,"d7":0,"dx":0.32,"dq":0.11},
{"t":800,"g":"c","e":0,"h":0.15,"d5":0,"d7":0,"dx":0.3,"dq":0.1}
]
},
"hconcat":[
{
"width":442,"height":329,
"data":{"name":"front"},
"title":{"text":"(a)\u00a0\u00a0\u00a0Front","orient":"bottom","anchor":"middle","offset":25,"dx":-30,"font":"Liberation Serif","fontSize":22,"fontWeight":"normal","color":"black"},
"layer":[
{
"encoding":{
"x":{"field":"t","type":"quantitative","scale":{"domain":[0,800],"nice":false},"axis":{"orient":"bottom","values":[0,100,200,300,400,500,600,700,800],"title":"Time (s)","labelPadding":16,"titlePadding":3}},
"y":{"field":"v","type":"quantitative","scale":{"domain":[0,25],"nice":false},"axis":{"orient":"left","values":[0,2.5,5,7.5,10,12.5,15,17.5,20,22.5,25],"labelExpr":"datum.value % 5 == 0 ? datum.label : ''","title":"O₂ (%)","titlePadding":6}}
},
"layer":[
{"transform":[{"filter":"datum.g == 'o'"},{"fold":["dx","dq","d7","d5","h"],"as":["s","v"]},{"filter":"isValid(datum.v)"}],
"mark":{"type":"line","strokeWidth":2},
"encoding":{"color":{"field":"s","type":"nominal","scale":{"domain":["h","d5","d7","dx","dq"],"range":["#66186b","#1f9e48","#f01ef0","#ff7f27","#3a6ea5"]},"legend":{"orient":"none","legendX":273,"legendY":156,"title":null,"symbolType":"M-2.95,0H2.95","symbolSize":400,"symbolStrokeWidth":2.5,"labelOffset":25,"labelFont":"Liberation Serif","labelFontSize":16.5,"labelFontWeight":"bold","labelColor":"black","rowPadding":1.6,"padding":0,"labelExpr":"datum.value == 'h' ? 'HRR_EXP' : datum.value == 'd5' ? 'DF_50%' : datum.value == 'd7' ? 'DF_70%' : datum.value == 'dx' ? 'DF_Exponential' : 'DF_Quadratic'"}}}},
{"transform":[{"filter":"datum.g == 'o'"},{"fold":["e"],"as":["s","v"]},{"filter":"isValid(datum.v)"}],
"mark":{"type":"circle","size":133,"stroke":"black","strokeWidth":0.8,"opacity":1},
"encoding":{"fill":{"field":"s","type":"nominal","scale":{"domain":["e"],"range":["#b5b5b5"]},"legend":{"orient":"none","legendX":273,"legendY":135,"title":null,"symbolType":"M-2.98,0a0.33,0.33 0 1,0 0.66,0a0.33,0.33 0 1,0 -0.66,0M-0.33,0a0.33,0.33 0 1,0 0.66,0a0.33,0.33 0 1,0 -0.66,0M2.27,0a0.33,0.33 0 1,0 0.66,0a0.33,0.33 0 1,0 -0.66,0","symbolSize":400,"symbolStrokeColor":"black","symbolStrokeWidth":0.8,"symbolOpacity":1,"labelOffset":25,"labelFont":"Liberation Serif","labelFontSize":16.5,"labelFontWeight":"bold","labelColor":"black","padding":0,"labelExpr":"'EXP'"}}}},
{"data":{"values":[{"t":287,"v":14.8}]},"mark":{"type":"point","shape":"M0,-1A0.337,1 0 1,1 0,1A0.337,1 0 1,1 0,-1Z","size":7921,"filled":false,"stroke":"black","strokeWidth":0.9,"opacity":1}},
{"data":{"values":[{"t":253,"v":18.55,"label":"O₂"}]},"mark":{"type":"text","font":"Liberation Serif","fontSize":21,"fontWeight":"bold","color":"black"},"encoding":{"text":{"field":"label"}}}
]
},
{
"encoding":{
"x":{"field":"t","type":"quantitative","scale":{"domain":[0,800],"nice":false},"axis":{"orient":"top","values":[0,100,200,300,400,500,600,700,800],"labels":false,"title":null}},
"y":{"field":"v","type":"quantitative","scale":{"domain":[0,20],"nice":false},"axis":{"orient":"right","values":[0,2,4,6,8,10,12,14,16,18,20],"labelExpr":"datum.value % 4 == 0 ? datum.label : ''","title":"CO₂ (%)","titleAngle":270,"titleBaseline":"top","titlePadding":30}}
},
"layer":[
{"transform":[{"filter":"datum.g == 'c'"},{"fold":["dx","dq","d7","d5","h"],"as":["s","v"]},{"filter":"isValid(datum.v)"}],
"mark":{"type":"line","strokeWidth":2},
"encoding":{"color":{"field":"s","type":"nominal","scale":{"domain":["h","d5","d7","dx","dq"],"range":["#66186b","#1f9e48","#f01ef0","#ff7f27","#3a6ea5"]}}}},
{"transform":[{"filter":"datum.g == 'c'"},{"fold":["e"],"as":["s","v"]},{"filter":"isValid(datum.v)"}],
"mark":{"type":"circle","size":133,"stroke":"black","strokeWidth":0.8,"opacity":1},
"encoding":{"fill":{"field":"s","type":"nominal","scale":{"domain":["e"],"range":["#b5b5b5"]}}}},
{"data":{"values":[{"t":287,"v":3.76}]},"mark":{"type":"point","shape":"M0,-1A0.337,1 0 1,1 0,1A0.337,1 0 1,1 0,-1Z","size":7921,"filled":false,"stroke":"black","strokeWidth":0.9,"opacity":1}},
{"data":{"values":[{"t":338,"v":6.58,"label":"CO₂"}]},"mark":{"type":"text","font":"Liberation Serif","fontSize":21,"fontWeight":"bold","color":"black"},"encoding":{"text":{"field":"label"}}}
]
}
],
"resolve":{"scale":{"y":"independent"},"axis":{"x":"independent"}}
},
{
"width":442,"height":329,
"data":{"name":"rear"},
"title":{"text":"(b)\u00a0\u00a0\u00a0Rear","orient":"bottom","anchor":"middle","offset":25,"dx":56,"font":"Liberation Serif","fontSize":22,"fontWeight":"normal","color":"black"},
"layer":[
{
"encoding":{
"x":{"field":"t","type":"quantitative","scale":{"domain":[0,800],"nice":false},"axis":{"orient":"bottom","values":[0,100,200,300,400,500,600,700,800],"title":"Time (s)","labelPadding":16,"titlePadding":3}},
"y":{"field":"v","type":"quantitative","scale":{"domain":[0,25],"nice":false},"axis":{"orient":"left","values":[0,2.5,5,7.5,10,12.5,15,17.5,20,22.5,25],"labelExpr":"datum.value % 5 == 0 ? datum.label : ''","title":"O₂ (%)","titlePadding":6}}
},
"layer":[
{"transform":[{"filter":"datum.g == 'o'"},{"fold":["dx","dq","d7","d5","h"],"as":["s","v"]},{"filter":"isValid(datum.v)"}],
"mark":{"type":"line","strokeWidth":2},
"encoding":{"color":{"field":"s","type":"nominal","scale":{"domain":["h","d5","d7","dx","dq"],"range":["#66186b","#1f9e48","#f01ef0","#ff7f27","#3a6ea5"]},"legend":null}}},
{"transform":[{"filter":"datum.g == 'o'"},{"fold":["e"],"as":["s","v"]},{"filter":"isValid(datum.v)"}],
"mark":{"type":"circle","size":133,"stroke":"black","strokeWidth":0.8,"opacity":1},
"encoding":{"fill":{"field":"s","type":"nominal","scale":{"domain":["e"],"range":["#b5b5b5"]},"legend":null}}},
{"data":{"values":[{"t":287,"v":13.58}]},"mark":{"type":"point","shape":"M0,-1A0.367,1 0 1,1 0,1A0.367,1 0 1,1 0,-1Z","size":7870,"filled":false,"stroke":"black","strokeWidth":0.9,"opacity":1}},
{"data":{"values":[{"t":255,"v":17.58,"label":"O₂"}]},"mark":{"type":"text","font":"Liberation Serif","fontSize":21,"fontWeight":"bold","color":"black"},"encoding":{"text":{"field":"label"}}}
]
},
{
"encoding":{
"x":{"field":"t","type":"quantitative","scale":{"domain":[0,800],"nice":false},"axis":{"orient":"top","values":[0,100,200,300,400,500,600,700,800],"labels":false,"title":null}},
"y":{"field":"v","type":"quantitative","scale":{"domain":[0,20],"nice":false},"axis":{"orient":"right","values":[0,2,4,6,8,10,12,14,16,18,20],"labelExpr":"datum.value % 4 == 0 ? datum.label : ''","title":"CO₂ (%)","titleAngle":270,"titleBaseline":"top","titlePadding":30}}
},
"layer":[
{"transform":[{"filter":"datum.g == 'c'"},{"fold":["dx","dq","d7","d5","h"],"as":["s","v"]},{"filter":"isValid(datum.v)"}],
"mark":{"type":"line","strokeWidth":2},
"encoding":{"color":{"field":"s","type":"nominal","scale":{"domain":["h","d5","d7","dx","dq"],"range":["#66186b","#1f9e48","#f01ef0","#ff7f27","#3a6ea5"]},"legend":null}}},
{"transform":[{"filter":"datum.g == 'c'"},{"fold":["e"],"as":["s","v"]},{"filter":"isValid(datum.v)"}],
"mark":{"type":"circle","size":133,"stroke":"black","strokeWidth":0.8,"opacity":1},
"encoding":{"fill":{"field":"s","type":"nominal","scale":{"domain":["e"],"range":["#b5b5b5"]},"legend":null}}},
{"data":{"values":[{"t":287,"v":4.49}]},"mark":{"type":"point","shape":"M0,-1A0.367,1 0 1,1 0,1A0.367,1 0 1,1 0,-1Z","size":7870,"filled":false,"stroke":"black","strokeWidth":0.9,"opacity":1}},
{"data":{"values":[{"t":343,"v":6.88,"label":"CO₂"}]},"mark":{"type":"text","font":"Liberation Serif","fontSize":21,"fontWeight":"bold","color":"black"},"encoding":{"text":{"field":"label"}}}
]
}
],
"resolve":{"scale":{"y":"independent"},"axis":{"x":"independent"}}
}
],
"resolve":{"legend":{"color":"independent","fill":"independent"}},
"config":{
"view":{"stroke":"black","strokeWidth":1.5},
"axis":{"domainColor":"black","domainWidth":1.5,"tickColor":"black","tickWidth":1.5,"tickSize":-7,"labelPadding":14,"labelFlush":false,"labelFont":"Liberation Serif","labelFontSize":19,"labelColor":"black","titleFont":"Liberation Serif","titleFontSize":20,"titleFontWeight":"bold","titleColor":"black","grid":false},
"legend":{"symbolOpacity":1}
}
}
